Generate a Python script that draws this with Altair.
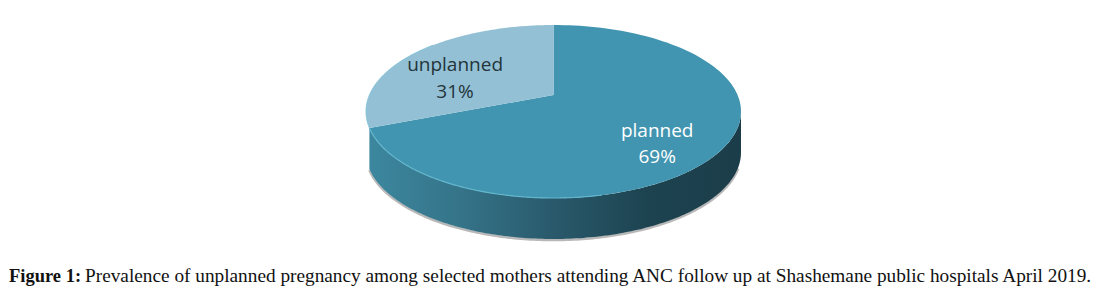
import numpy as np
import pandas as pd
import altair as alt

categories = ["planned", "unplanned"]
shares = [69, 31]
label_lines = {"planned": ["planned", "69%"], "unplanned": ["unplanned", "31%"]}
caption_bold = "Figure 1:"
caption_rest = "Prevalence of unplanned pregnancy among selected mothers attending ANC follow up at Shashemane public hospitals April 2019."

# Tilted-pie geometry (unit ellipse; the scales below map it to the page)
APEX_Y = -0.19
DEPTH = 0.474
TILT = 1.043  # perspective stretch of the slice angle

def ring(t0, t1, dy=0.0, n=160):
    t = np.radians(np.linspace(t0, t1, n))
    return np.sin(t), -np.cos(t) + dy

split = 360 * shares[0] / 100 * TILT

def frame(xs, ys):
    return pd.DataFrame({"x": xs, "y": ys, "i": np.arange(len(xs))})

xs_scale = alt.Scale(domain=[-1, 1], range=[358, 733])
ys_scale = alt.Scale(domain=[-1, 1], range=[17, 190])

def shape(df, **mark):
    return alt.Chart(df).mark_line(interpolate="linear", clip=False, **mark).encode(
        x=alt.X("x:Q", scale=xs_scale, axis=None),
        y=alt.Y("y:Q", scale=ys_scale, axis=None),
        order="i:Q",
    )

x1, y1 = ring(90, split)
x2, y2 = ring(split, 90, DEPTH)
wall = frame(np.r_[x1, x2, x1[:1]], np.r_[y1, y2, y1[:1]])
wall_fill = alt.Gradient(
    gradient="linear", x1=0, x2=1, y1=0, y2=0,
    stops=[
        alt.GradientStop(offset=0.0, color="#3c879f"),
        alt.GradientStop(offset=0.25, color="#357388"),
        alt.GradientStop(offset=0.5, color="#29596b"),
        alt.GradientStop(offset=0.75, color="#1d4350"),
        alt.GradientStop(offset=1.0, color="#1b3d49"),
    ],
)

xp, yp = ring(0, split)
planned = frame(np.r_[0, xp, 0], np.r_[APEX_Y, yp, APEX_Y])
xu, yu = ring(split, 360)
unplanned = frame(np.r_[0, xu, 0], np.r_[APEX_Y, yu, APEX_Y])

xs, ys = ring(100, split, DEPTH + 0.012)
shadow = frame(xs, ys)
xr, yr = ring(165, split)
rim = frame(xr, yr)
xb, yb = ring(split, 320)
rim_u = frame(xb, yb)

labels = pd.DataFrame({
    "text": label_lines["unplanned"] + label_lines["planned"],
    "x": [-0.525, -0.525, 0.553, 0.553],
    "y": [-0.47, -0.16, 0.30, 0.60],
    "c": ["#24343a", "#24343a", "#ffffff", "#ffffff"],
})

text_layer = alt.Chart(labels).mark_text(
    font="Open Sans", fontSize=19, align="center", baseline="alphabetic"
).encode(
    x=alt.X("x:Q", scale=xs_scale, axis=None),
    y=alt.Y("y:Q", scale=ys_scale, axis=None),
    text="text:N",
    color=alt.Color("c:N", scale=None),
)

caption_df = pd.DataFrame({"bold": [caption_bold], "rest": [caption_rest]})
cap_a = alt.Chart(caption_df).mark_text(
    font="Liberation Serif", fontSize=18.5, fontWeight="bold", align="left",
    baseline="alphabetic", color="#111111"
).encode(x=alt.value(1), y=alt.value(274), text="bold:N")
cap_b = alt.Chart(caption_df).mark_text(
    font="Liberation Serif", fontSize=19.3, align="left",
    baseline="alphabetic", color="#111111"
).encode(x=alt.value(77), y=alt.value(274), text="rest:N")

chart = alt.layer(
    shape(shadow, stroke="#9a9a9a", strokeWidth=2.5, opacity=0.7),
    shape(wall, fill=wall_fill, stroke=None),
    shape(planned, fill="#4295b0", stroke=None),
    shape(unplanned, fill="#93c0d5", stroke=None),
    shape(rim, stroke="#62b6cc", strokeWidth=1.2),
    shape(rim_u, stroke="#7fc3d8", strokeWidth=1),
    text_layer, cap_a, cap_b,
).properties(
    width=1085, height=281, padding=0, background="white",
    autosize=alt.AutoSizeParams(type="none"),
).configure_view(stroke=None)

chart.save("out.html", embed_options={"renderer": "svg", "actions": False})
